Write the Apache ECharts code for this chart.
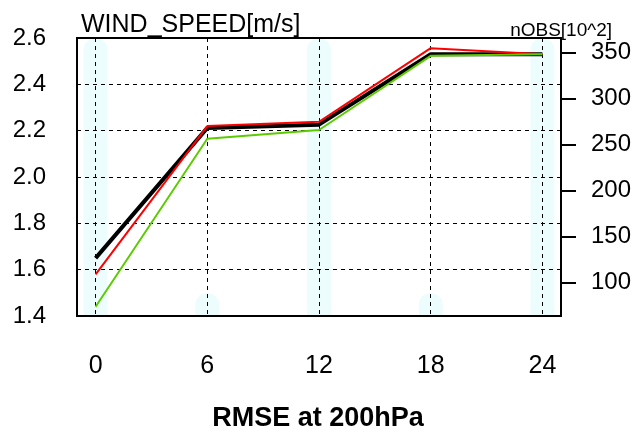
<!DOCTYPE html>
<html>
<head>
<meta charset="utf-8">
<script src="https://cdn.jsdelivr.net/npm/echarts@6/dist/echarts.min.js"></script>
<style>
  html, body { margin: 0; padding: 0; background: #fff; }
  #main { width: 636px; height: 435px; }
</style>
</head>
<body>
<div id="main"></div>
<script>
// forecast hours
const hours = [0, 6, 12, 18, 24];
// RMSE lines (left axis)
const blackRmse = [1.65, 2.212, 2.226, 2.53, 2.53];
const redRmse = [1.58, 2.22, 2.238, 2.556, 2.53];
const greenRmse = [1.44, 2.165, 2.203, 2.523, 2.53];
// number of observations, 10^2 (right axis)
const nObs = [366, 89, 366, 89, 366];
// tick labels
const leftTicks = [1.4, 1.6, 1.8, 2.0, 2.2, 2.4, 2.6];
const rightTicks = [100, 150, 200, 250, 300, 350];
const hourTicks = [0, 6, 12, 18, 24];

const pair = (vals) => hours.map((h, i) => [h, vals[i]]);
const font = "'Liberation Sans', Arial, Helvetica, sans-serif";
const dash = { color: '#000', width: 1, type: [4, 4] };

const chart = echarts.init(document.getElementById('main'));
chart.setOption({
  animation: false,
  backgroundColor: '#fff',
  title: [
    { text: 'WIND_SPEED[m/s]', left: 76, top: 8,
      textStyle: { fontFamily: font, fontWeight: 'normal', fontSize: 25, color: '#000' } },
    { text: 'nOBS[10^2]', right: 19, top: 16,
      textStyle: { fontFamily: font, fontWeight: 'normal', fontSize: 19, color: '#000' } },
    { text: 'RMSE at 200hPa', left: 'center', top: 400,
      textStyle: { fontFamily: font, fontWeight: 'bold', fontSize: 27, color: '#000' } }
  ],
  grid: { left: 77, right: 75, top: 38, bottom: 119, show: true,
    borderColor: '#000', borderWidth: 2, backgroundColor: 'transparent' },
  xAxis: {
    type: 'value', min: -1, max: 25,
    axisLine: { show: false },
    axisTick: { show: false, customValues: hourTicks },
    axisLabel: { customValues: hourTicks, margin: 38, fontSize: 25,
      fontFamily: font, color: '#000' },
    splitLine: { show: true, lineStyle: dash }
  },
  yAxis: [
    {
      type: 'value', min: 1.4, max: 2.6, interval: 0.2,
      axisLine: { show: false },
      axisTick: { show: false },
      axisLabel: { margin: 31, fontSize: 24, fontFamily: font, color: '#000',
        formatter: (v) => leftTicks.find((t) => Math.abs(t - v) < 1e-6).toFixed(1) },
      splitLine: { show: true, lineStyle: dash }
    },
    {
      type: 'value', min: 64, max: 366, position: 'right',
      axisLine: { show: true, lineStyle: { color: '#000', width: 2 } },
      axisTick: { show: true, length: 15, customValues: rightTicks,
        lineStyle: { color: '#000', width: 2 } },
      axisLabel: { customValues: rightTicks, margin: 30, fontSize: 24,
        fontFamily: font, color: '#000' },
      splitLine: { show: false }
    }
  ],
  series: [
    {
      type: 'bar', yAxisIndex: 1, data: pair(nObs), barWidth: 24,
      itemStyle: { color: '#edfdfd', borderRadius: [12, 12, 0, 0] },
      z: -1
    },
    {
      type: 'line', yAxisIndex: 0, data: pair(blackRmse), symbol: 'none',
      lineStyle: { color: '#000', width: 4 }, z: 3
    },
    {
      type: 'line', yAxisIndex: 0, data: pair(redRmse), symbol: 'none',
      lineStyle: { color: '#ff0000', width: 2 }, z: 4
    },
    {
      type: 'line', yAxisIndex: 0, data: pair(greenRmse), symbol: 'none',
      lineStyle: { color: '#5ccc00', width: 2 }, z: 5
    }
  ]
});
</script>
</body>
</html>
